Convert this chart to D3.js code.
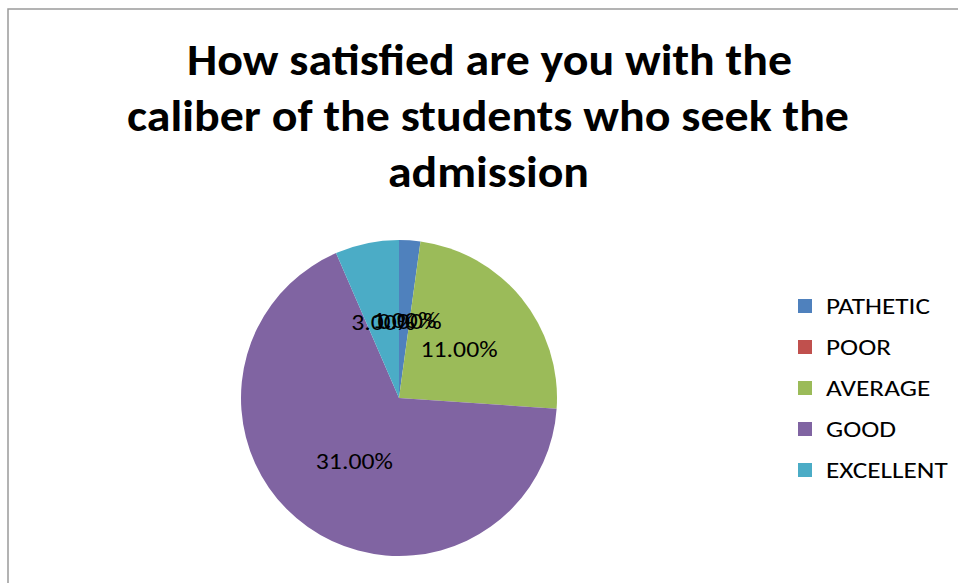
<!DOCTYPE html>
<html>
<head>
<meta charset="utf-8">
<script src="https://cdn.jsdelivr.net/npm/d3@7"></script>
<style>
  html, body { margin: 0; padding: 0; background: #fff; }
  svg { display: block; }
</style>
</head>
<body>
<svg id="chart" width="958" height="583"></svg>
<script>
const titleLines = ["How satisfied are you with the", "caliber of the students who seek the", "admission"];
const categories = ["PATHETIC", "POOR", "AVERAGE", "GOOD", "EXCELLENT"];
const values = [1.00, 0.00, 11.00, 31.00, 3.00];
const colors = ["#4F81BD", "#C0504D", "#9BBB59", "#8064A2", "#4BACC6"];

const FONT = "Carlito, Calibri, Lato, 'Open Sans', sans-serif";
const svg = d3.select("#chart");

// chart border
svg.append("rect")
  .attr("x", 8).attr("y", 9).attr("width", 1000).attr("height", 1000)
  .attr("fill", "none").attr("stroke", "#9a9a9a").attr("stroke-width", 1.5);

// title
const titleSpec = [
  {x0: 187, x1: 792, y: 75},
  {x0: 127, x1: 849, y: 131},
  {x0: 388, x1: 589, y: 187}
];
titleLines.forEach((t, i) => {
  svg.append("text")
    .attr("x", titleSpec[i].x0).attr("y", titleSpec[i].y)
    .attr("font-family", FONT).attr("font-weight", "bold").attr("font-size", 44)
    .attr("fill", "#000")
    .attr("textLength", titleSpec[i].x1 - titleSpec[i].x0)
    .attr("lengthAdjust", "spacingAndGlyphs")
    .text(t);
});

// pie
const cx = 399, cy = 398, R = 158;
const color = d3.scaleOrdinal().domain(categories).range(colors);
const pie = d3.pie().sort(null).value(d => d.v);
const data = categories.map((c, i) => ({c, v: values[i]}));
const arcs = pie(data);
const arc = d3.arc().innerRadius(0).outerRadius(R);
const labelArc = d3.arc().innerRadius(R * 0.49).outerRadius(R * 0.49);
const g = svg.append("g").attr("transform", `translate(${cx},${cy})`);
g.selectAll("path").data(arcs).join("path")
  .attr("d", arc)
  .attr("fill", d => color(d.data.c));
g.selectAll("text").data(arcs).join("text")
  .attr("transform", d => `translate(${labelArc.centroid(d)}) scale(1.17,1)`)
  .attr("text-anchor", "middle").attr("dy", "0.35em")
  .attr("font-family", FONT).attr("font-size", 22).attr("fill", "#000")
  .text(d => d.data.v.toFixed(2) + "%");

// legend
const legend = svg.append("g");
const ly = d3.scalePoint().domain(categories).range([306, 470]);
categories.forEach(c => {
  legend.append("rect")
    .attr("x", 798).attr("y", ly(c) - 7).attr("width", 14).attr("height", 14)
    .attr("fill", color(c));
  legend.append("text")
    .attr("transform", `translate(826,${ly(c)}) scale(1.24,1)`)
    .attr("dy", "0.35em")
    .attr("font-family", FONT).attr("font-size", 22).attr("fill", "#000")
    .text(c);
});
</script>
</body>
</html>
